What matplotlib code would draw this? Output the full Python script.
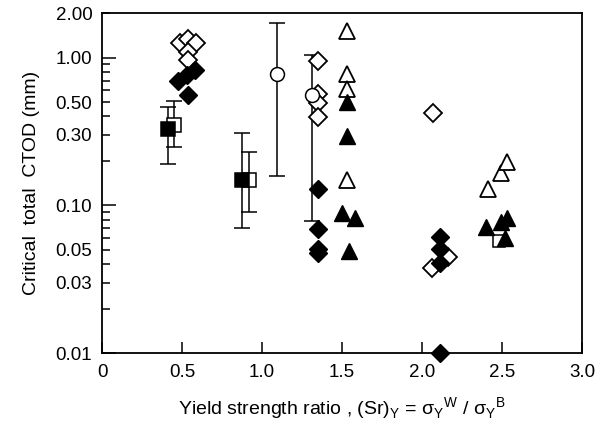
import numpy as np
import matplotlib
matplotlib.use('Agg')
from matplotlib import pyplot as plt
from matplotlib.ticker import FixedLocator, FuncFormatter

plt.rcParams['font.family'] = ['Liberation Sans', 'DejaVu Sans']
plt.rcParams['mathtext.fontset'] = 'custom'
plt.rcParams['mathtext.rm'] = 'Liberation Sans'

# open circles with error bars
circ_x = [1.09, 1.31]
circ_y = [0.78, 0.557]
circ_lo = [0.158, 0.079]
circ_hi = [1.71, 1.04]

# squares with error bars
fsq_x = [0.41, 0.875]
fsq_y = [0.328, 0.148]
fsq_lo = [0.19, 0.070]
fsq_hi = [0.46, 0.308]

osq_x = [0.45, 0.92]
osq_y = [0.35, 0.148]
osq_lo = [0.248, 0.090]
osq_hi = [0.507, 0.229]

osq2_x = [2.48]
osq2_y = [0.057]

# diamonds
odia_x = [0.49, 0.54, 0.59, 0.54, 0.54, 1.35, 1.35, 1.35, 1.35, 2.07, 2.06, 2.16]
odia_y = [1.25, 1.33, 1.25, 1.09, 0.96, 0.946, 0.566, 0.49, 0.395, 0.42, 0.038, 0.0447]

fdia_x = [0.475, 0.53, 0.58, 0.54, 1.35, 1.35, 1.35, 1.35, 2.11, 2.11, 2.11, 2.11]
fdia_y = [0.70, 0.76, 0.82, 0.557, 0.129, 0.069, 0.051, 0.0475, 0.061, 0.051, 0.041, 0.01]

# triangles
otri_x = [1.53, 1.53, 1.53, 1.53, 2.41, 2.49, 2.53]
otri_y = [1.51, 0.78, 0.61, 0.148, 0.129, 0.165, 0.196]

ftri_x = [1.53, 1.53, 1.50, 1.58, 1.54, 2.40, 2.49, 2.53, 2.52]
ftri_y = [0.50, 0.294, 0.0886, 0.082, 0.049, 0.071, 0.077, 0.082, 0.060]

ytick_vals = [0.01, 0.03, 0.05, 0.1, 0.3, 0.5, 1.0, 2.0]
ytick_text = ['0.01', '0.03', '0.05', '0.10', '0.30', '0.50', '1.00', '2.00']
xtick_vals = [0, 0.5, 1.0, 1.5, 2.0, 2.5, 3.0]
xtick_text = ['0', '0.5', '1.0', '1.5', '2.0', '2.5', '3.0']


def yerr(y, lo, hi):
    y = np.array(y)
    return [y - np.array(lo), np.array(hi) - y]


fig = plt.figure(figsize=(6.11, 4.25), dpi=100)
ax = fig.add_axes([0.167, 0.169, 0.786, 0.8])

eb = dict(ls='none', ecolor='k', elinewidth=1.1, capsize=6, capthick=1.1,
          mec='k', mew=1.1)

ax.errorbar(circ_x, circ_y, yerr=yerr(circ_y, circ_lo, circ_hi), fmt='o',
            ms=10, mfc='white', **eb)
ax.errorbar(osq_x, osq_y, yerr=yerr(osq_y, osq_lo, osq_hi), fmt='s',
            ms=10, mfc='white', **eb)
ax.errorbar(fsq_x, fsq_y, yerr=yerr(fsq_y, fsq_lo, fsq_hi), fmt='s',
            ms=10, mfc='k', **eb)
ax.plot(osq2_x, osq2_y, 's', ms=9, mfc='white', mec='k', mew=1.1)

ax.plot(odia_x, odia_y, 'D', ms=9.5, mfc='white', mec='k', mew=1.3, ls='none')
ax.plot(fdia_x, fdia_y, 'D', ms=9.5, mfc='k', mec='k', mew=1.0, ls='none',
        clip_on=False)
ax.plot(otri_x, otri_y, '^', ms=11, mfc='white', mec='k', mew=1.3, ls='none')
ax.plot(ftri_x, ftri_y, '^', ms=11, mfc='k', mec='k', mew=1.0, ls='none')

ax.set_yscale('log')
ax.set_ylim(0.01, 2.0)
ax.set_xlim(0, 3.0)

# long ticks at decades, short ones in between
ax.yaxis.set_major_locator(FixedLocator([0.01, 0.1, 1.0]))
minor = [m * d for d in (0.01, 0.1) for m in range(2, 10)]
ax.yaxis.set_minor_locator(FixedLocator(minor + [2.0]))
lab = dict(zip(ytick_vals, ytick_text))


def fmt(v, pos):
    for k, s in lab.items():
        if abs(v - k) / k < 1e-6:
            return s
    return ''


ax.yaxis.set_major_formatter(FuncFormatter(fmt))
ax.yaxis.set_minor_formatter(FuncFormatter(fmt))
ax.set_xticks(xtick_vals)
ax.set_xticklabels(xtick_text)

ax.tick_params(axis='both', which='both', direction='in', labelsize=13.5,
               width=1.1, top=False, right=False)
ax.tick_params(axis='y', which='major', length=10, pad=7)
ax.tick_params(axis='y', which='minor', length=6, pad=7)
ax.tick_params(axis='x', which='major', length=8, pad=8)
for s in ax.spines.values():
    s.set_linewidth(1.3)

ax.set_ylabel('Critical  total  CTOD (mm)', fontsize=14, labelpad=11)
ax.set_xlabel(r'Yield strength ratio , (Sr)$_\mathregular{Y}$ = '
              r'σ$_\mathregular{Y}$$^\mathregular{W}$ / σ$_\mathregular{Y}$$^\mathregular{B}$',
              fontsize=14, labelpad=10)

fig.savefig('out.png', dpi=100)
